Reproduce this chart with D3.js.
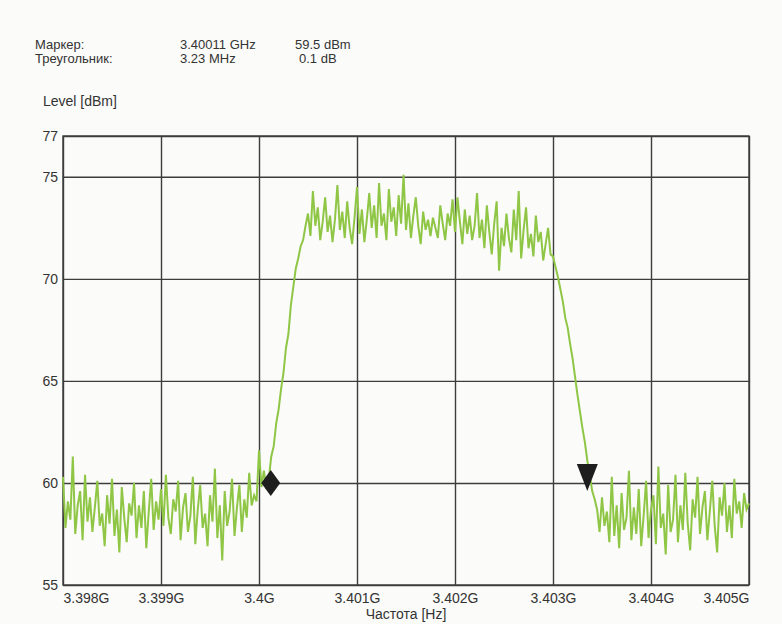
<!DOCTYPE html>
<html>
<head>
<meta charset="utf-8">
<script src="https://cdn.jsdelivr.net/npm/d3@7"></script>
<style>
  html, body { margin: 0; padding: 0; background: #fbfbf9; }
  svg { display: block; font-family: "Liberation Sans", Arial, sans-serif; }
  .lbl { font-size: 14px; fill: #333; }
</style>
</head>
<body>
<svg id="chart" width="782" height="624"></svg>
<script>
// sweep / axis settings
var sweepStart = 3.398e9;
var sweepStop  = 3.405e9;
var levelTicks = [55, 60, 65, 70, 75, 77];
var freqTicks  = [3.398e9, 3.399e9, 3.400e9, 3.401e9, 3.402e9, 3.403e9, 3.404e9, 3.405e9];

// trace levels (dBm), one per sweep point, 25 kHz apart
var levels = [
  // 3.398G .. 3.39998G  noise floor
  60.3, 57.8, 59.1, 58.2, 61.3, 57.5, 58.9, 59.6, 57.2, 60.4, 58.1, 59.3, 57.6, 58.8, 60.1, 57.9, 58.5, 56.9, 59.4, 58.0,
  60.2, 57.4, 58.7, 56.6, 59.8, 58.3, 57.1, 59.0, 58.4, 60.0, 57.3, 58.9, 57.8, 59.6, 56.8, 58.6, 60.2, 57.7, 59.1, 58.2,
  59.7, 57.9, 60.4, 58.3, 57.5, 59.2, 58.6, 60.1, 57.2, 58.8, 59.5, 57.6, 58.4, 60.3, 57.0, 58.7, 59.9, 57.8, 58.5, 56.9,
  59.4, 58.1, 60.7, 57.3, 58.9, 56.2, 59.6, 57.9, 58.6, 60.2, 57.4, 58.8, 59.9, 57.6, 59.2, 58.3, 60.5, 58.9, 59.4, 59.1,
  // 3.4G .. rising edge
  61.6, 59.8, 60.6, 59.7, 60.2,
  61.3, 61.8, 62.9, 63.6, 64.6, 65.4, 66.6, 67.3, 68.7, 69.6, 70.5, 71.0, 71.6, 71.9, 72.6,
  // plateau
  73.2, 72.1, 74.3, 72.6, 73.5, 71.9, 72.8, 74.0, 72.3, 73.1, 71.8, 72.9, 74.6, 72.4, 73.3, 72.0, 73.8, 72.5, 71.7, 73.0,
  74.5, 72.2, 73.4, 71.8, 72.9, 74.2, 72.5, 73.6, 72.0, 74.7, 72.6, 73.2, 71.9, 74.4, 72.8, 73.5, 72.1, 74.1, 72.7, 75.1,
  72.4, 73.7, 72.0, 73.1, 74.0, 72.6, 71.7, 73.3, 72.4, 72.9, 72.1, 73.0, 72.5, 72.0, 73.6, 72.7, 71.9, 73.2, 72.6, 73.9,
  72.3, 74.0, 72.8, 71.7, 73.4, 72.2, 73.1, 71.9, 72.6, 74.2, 72.0, 72.9, 71.5, 73.6, 72.3, 71.2, 72.7, 73.8, 70.4, 72.5,
  71.6, 73.2, 72.0, 71.3, 73.4, 71.9, 74.3, 71.0, 72.4, 73.5, 71.5, 72.2, 71.1, 73.1, 71.8, 72.3, 70.9, 71.7, 72.5, 71.2,
  // falling edge
  71.1, 70.6, 70.1, 69.5, 68.9, 68.1, 67.6, 66.8, 66.1, 65.2, 64.3, 63.5, 62.7, 62.0, 61.1, 60.4, 59.6, 59.2, 58.7,
  // noise floor .. 3.405G
  57.6, 59.3, 57.9, 58.6, 57.1, 60.3, 57.4, 58.9, 56.8, 59.5, 57.7, 58.3, 60.6, 57.2, 58.8, 57.5, 59.7, 56.9, 58.4, 60.1,
  57.3, 58.7, 59.4, 57.0, 60.8, 57.8, 58.5, 56.5, 59.9, 57.6, 58.2, 60.4, 57.1, 58.9, 57.7, 60.5, 58.0, 56.7, 59.2, 58.3,
  60.3, 57.5, 58.8, 59.6, 57.2, 58.6, 60.1, 57.9, 56.6, 59.3, 58.4, 60.0, 57.6, 58.9, 57.3, 60.2, 58.5, 59.1, 57.8, 59.5,
  58.7, 59.0
];

// markers drawn on the trace
var markerPoint = [3.40012e9, 60.0];
var deltaPoint  = [3.40335e9, 59.6];

// readout block
var readoutNames  = ['Маркер:', 'Треугольник:'];
var readoutFreqs  = ['3.40011 GHz', '3.23 MHz'];
var readoutLevels = ['59.5 dBm', '0.1 dB'];

var svg = d3.select('#chart');

var plot = { left: 63, right: 749, top: 136, bottom: 585 };

/**
 * Scales
 */
var x = d3.scaleLinear()
  .domain([sweepStart, sweepStop])
  .range([plot.left, plot.right]);

var y = d3.scaleLinear()
  .domain([55, 77])
  .range([plot.bottom, plot.top]);

var step = (sweepStop - sweepStart) / (levels.length - 1);

/**
 * Grid + axes
 */
var yAxis = svg.append('g')
  .attr('transform', 'translate(' + plot.left + ',0)')
  .call(d3.axisLeft(y)
    .tickValues(levelTicks)
    .tickSize(-(plot.right - plot.left))
    .tickPadding(5)
    .tickFormat(d3.format('d')));

var xAxis = svg.append('g')
  .attr('transform', 'translate(0,' + plot.bottom + ')')
  .call(d3.axisBottom(x)
    .tickValues(freqTicks)
    .tickSize(-(plot.bottom - plot.top))
    .tickPadding(5)
    .tickFormat(function (d) { return d3.format('.3~f')(d / 1e9) + 'G'; }));

[xAxis, yAxis].forEach(function (ax) {
  ax.select('.domain').remove();
  ax.selectAll('line')
    .attr('stroke', '#3d3d3d')
    .attr('stroke-width', 1.4);
  ax.selectAll('text')
    .attr('class', 'lbl')
    .style('font-size', '14px')
    .attr('fill', '#333');
});

xAxis.selectAll('text')
  .attr('dy', '0.95em')
  .style('text-anchor', function (d, i) {
    if (i === 0) return 'start';
    if (i === freqTicks.length - 1) return 'end';
    return 'middle';
  });

svg.append('rect')
  .attr('x', plot.left)
  .attr('y', plot.top)
  .attr('width', plot.right - plot.left)
  .attr('height', plot.bottom - plot.top)
  .attr('fill', 'none')
  .attr('stroke', '#3d3d3d')
  .attr('stroke-width', 1.4);

/**
 * Trace
 */
var line = d3.line()
  .x(function (d, i) { return x(sweepStart + i * step); })
  .y(function (d) { return y(d); });

svg.append('path')
  .datum(levels)
  .attr('d', line)
  .attr('fill', 'none')
  .attr('stroke', '#8fc646')
  .attr('stroke-width', 2)
  .attr('stroke-linejoin', 'miter');

/**
 * Markers
 */
svg.append('path')
  .attr('d', 'M0,-13L9.5,0L0,13L-9.5,0Z')
  .attr('transform', 'translate(' + x(markerPoint[0]) + ',' + y(markerPoint[1]) + ')')
  .attr('fill', '#1e1e1e');

svg.append('path')
  .attr('d', 'M-10.5,-27L10.5,-27L0,0Z')
  .attr('transform', 'translate(' + x(deltaPoint[0]) + ',' + y(deltaPoint[1]) + ')')
  .attr('fill', '#1e1e1e');

/**
 * Texts
 */
var readout = svg.append('g').style('font-size', '13px');
readoutNames.forEach(function (name, i) {
  var by = 48.5 + i * 14.5;
  readout.append('text').attr('class', 'lbl').style('font-size', '13px').attr('x', 35).attr('y', by).text(name);
  readout.append('text').attr('class', 'lbl').style('font-size', '13px').attr('x', 180).attr('y', by).text(readoutFreqs[i]);
  readout.append('text').attr('class', 'lbl').style('font-size', '13px').attr('x', i === 0 ? 295 : 299).attr('y', by).text(readoutLevels[i]);
});

svg.append('text')
  .attr('class', 'lbl')
  .attr('x', 43)
  .attr('y', 106)
  .text('Level [dBm]');

svg.append('text')
  .attr('class', 'lbl')
  .attr('x', (plot.left + plot.right) / 2)
  .attr('y', 619)
  .style('text-anchor', 'middle')
  .text('Частота [Hz]');
</script>
</body>
</html>
